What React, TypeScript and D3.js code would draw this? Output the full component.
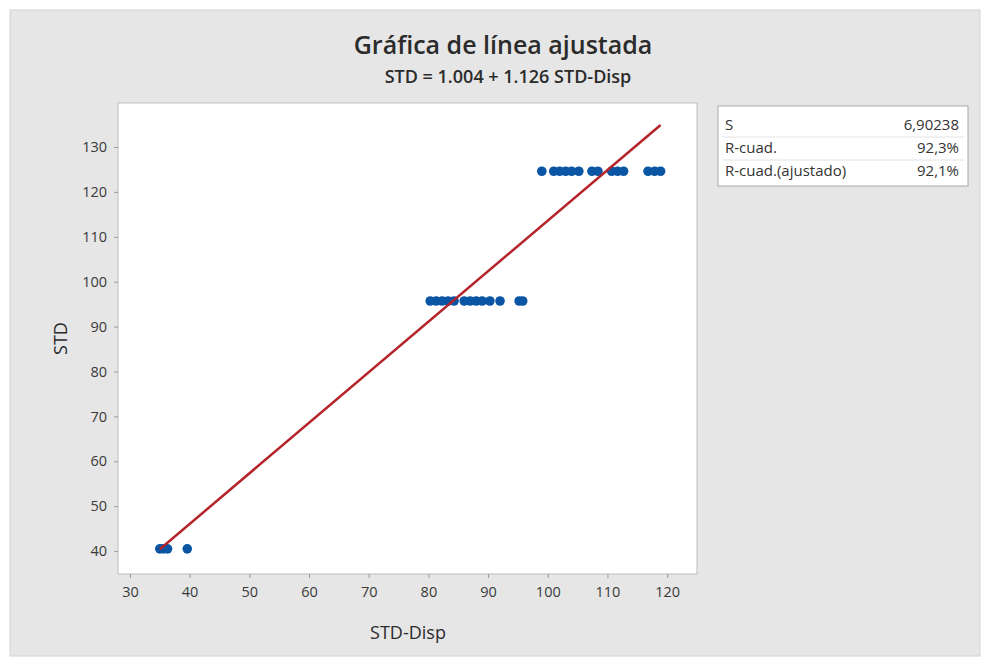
import { useRef, useEffect } from 'react';
import * as d3 from 'd3';

const W = 985;
const H = 664;
const FONT = '"Open Sans", "Noto Sans", sans-serif';

// scatter rows (STD-Disp per STD level)
const lowX = [35, 35.6, 36.3, 39.6];
const lowY = 40.5;
const midX = [80.3, 81.3, 82.3, 83.3, 84.3, 86, 87, 88, 89, 90.3, 92, 95.2, 95.8];
const midY = 95.7;
const highX = [99, 101, 102, 103, 104, 105.2, 107.4, 108.4, 110.7, 111.7, 112.7, 116.8, 117.9, 118.9];
const highY = 124.6;

const intercept = 1.004;
const slope = 1.126;

const xTicks = [30, 40, 50, 60, 70, 80, 90, 100, 110, 120];
const yTicks = [40, 50, 60, 70, 80, 90, 100, 110, 120, 130];

const statLabels = ['S', 'R-cuad.', 'R-cuad.(ajustado)'];
const statValues = ['6,90238', '92,3%', '92,1%'];

function App() {
  const svgRef = useRef<SVGSVGElement>(null);

  useEffect(() => {
    const svg = d3.select(svgRef.current);
    svg.selectAll('*').remove();

    const plot = { left: 118, right: 697, top: 103, bottom: 574 };

    // outer panel
    svg.append('rect').attr('width', W).attr('height', H).attr('fill', '#ffffff');
    svg.append('rect')
      .attr('x', 10).attr('y', 10)
      .attr('width', 970).attr('height', 646)
      .attr('fill', '#e6e6e6')
      .attr('stroke', '#d2d2d2');

    // titles
    svg.append('text')
      .attr('x', 503).attr('y', 54)
      .attr('text-anchor', 'middle')
      .attr('font-family', FONT)
      .attr('font-size', 25)
      .attr('font-weight', 600)
      .attr('fill', '#2b2b2b')
      .text('Gráfica de línea ajustada');
    svg.append('text')
      .attr('x', 508).attr('y', 83)
      .attr('text-anchor', 'middle')
      .attr('font-family', FONT)
      .attr('font-size', 18)
      .attr('font-weight', 600)
      .attr('fill', '#2b2b2b')
      .text('STD = 1.004 + 1.126 STD-Disp');

    const x = d3.scaleLinear().domain([28, 125]).range([plot.left, plot.right]);
    const y = d3.scaleLinear().domain([34.9, 139.8]).range([plot.bottom, plot.top]);

    svg.append('rect')
      .attr('x', plot.left).attr('y', plot.top)
      .attr('width', plot.right - plot.left)
      .attr('height', plot.bottom - plot.top)
      .attr('fill', '#ffffff')
      .attr('stroke', '#bdbdbd');

    // axes
    const xAxis = svg.append('g')
      .attr('transform', `translate(0,${plot.bottom})`)
      .call(d3.axisBottom(x).tickValues(xTicks).tickSize(4).tickPadding(9));
    const yAxis = svg.append('g')
      .attr('transform', `translate(${plot.left},0)`)
      .call(d3.axisLeft(y).tickValues(yTicks).tickSize(4).tickPadding(7));
    [xAxis, yAxis].forEach((a) => {
      a.select('.domain').remove();
      a.selectAll('.tick line').attr('stroke', '#9a9a9a');
      a.selectAll('.tick text')
        .attr('fill', '#3a3a3a')
        .attr('font-family', FONT)
        .attr('font-size', 14.5);
    });

    svg.append('text')
      .attr('x', 408).attr('y', 639)
      .attr('text-anchor', 'middle')
      .attr('font-family', FONT)
      .attr('font-size', 18)
      .attr('fill', '#2b2b2b')
      .text('STD-Disp');
    svg.append('text')
      .attr('transform', `translate(67,${(plot.top + plot.bottom) / 2}) rotate(-90)`)
      .attr('text-anchor', 'middle')
      .attr('font-family', FONT)
      .attr('font-size', 18)
      .attr('fill', '#2b2b2b')
      .text('STD');

    // points
    const pts = [
      ...lowX.map((v) => [v, lowY]),
      ...midX.map((v) => [v, midY]),
      ...highX.map((v) => [v, highY]),
    ];
    svg.append('g')
      .selectAll('circle')
      .data(pts)
      .join('circle')
      .attr('cx', (d) => x(d[0]))
      .attr('cy', (d) => y(d[1]))
      .attr('r', 4.8)
      .attr('fill', '#0b56a4');

    // fitted line
    const xs = d3.extent(pts, (d) => d[0]) as [number, number];
    svg.append('path')
      .datum(xs)
      .attr('d', d3.line<number>().x((v) => x(v)).y((v) => y(intercept + slope * v)))
      .attr('fill', 'none')
      .attr('stroke', '#b5242b')
      .attr('stroke-width', 2.5);

    // stats box
    const box = svg.append('g').attr('transform', 'translate(718,106)');
    box.append('rect')
      .attr('width', 250).attr('height', 80)
      .attr('fill', '#ffffff')
      .attr('stroke', '#a8a8a8');
    statLabels.forEach((lab, i) => {
      const ty = 24 + i * 23;
      box.append('text')
        .attr('x', 7).attr('y', ty)
        .attr('font-family', FONT)
        .attr('font-size', 15)
        .attr('fill', '#333')
        .text(lab);
      box.append('text')
        .attr('x', 241).attr('y', ty)
        .attr('text-anchor', 'end')
        .attr('font-family', FONT)
        .attr('font-size', 15)
        .attr('fill', '#333')
        .text(statValues[i]);
      if (i < statLabels.length - 1) {
        box.append('line')
          .attr('x1', 4).attr('x2', 246)
          .attr('y1', ty + 7).attr('y2', ty + 7)
          .attr('stroke', '#e4e4e4');
      }
    });
  }, []);

  return (
    <svg
      ref={svgRef}
      width={W}
      height={H}
      style={{ position: 'absolute', left: 0, top: 0, display: 'block' }}
    />
  );
}

export default App;
